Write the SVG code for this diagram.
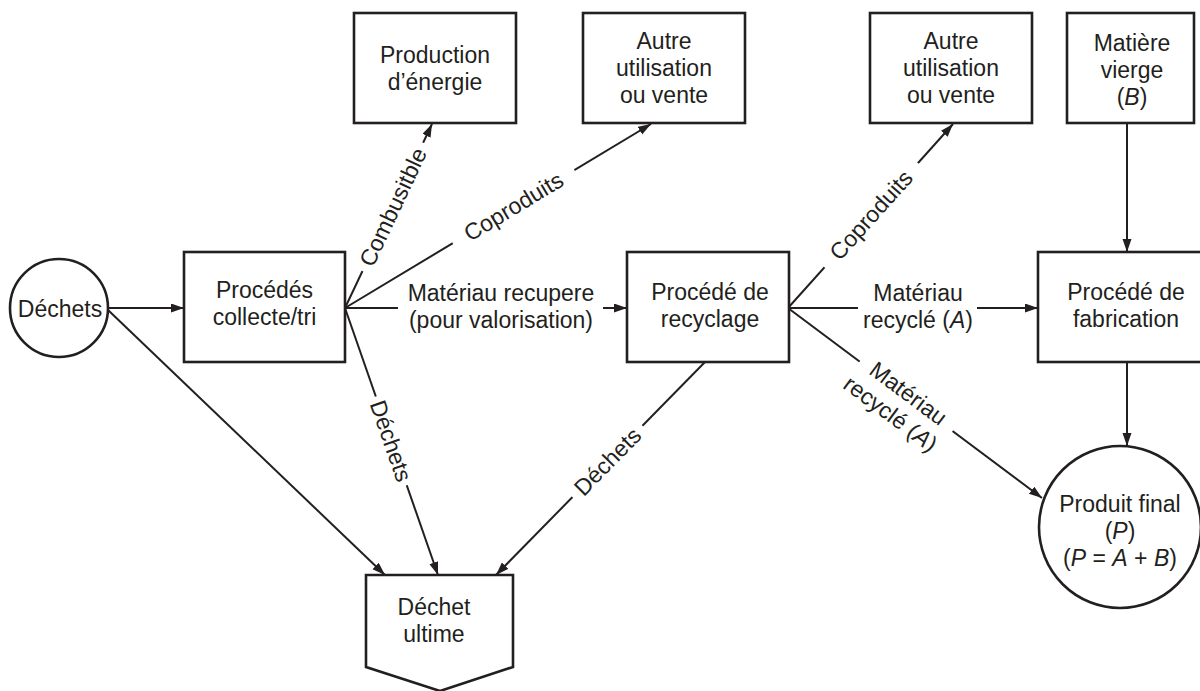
<svg xmlns="http://www.w3.org/2000/svg" width="1200" height="691" viewBox="0 0 1200 691">
<defs>
<style>
.box{fill:#fff;stroke:#231f20;stroke-width:2.6}
.ln{fill:none;stroke:#231f20;stroke-width:2}
.arr{marker-end:url(#ah)}
text{font-family:"Liberation Sans",Arial,sans-serif;font-size:23px;fill:#231f20;text-anchor:middle}
.it{font-style:italic}
.bg{fill:#fff;stroke:none}
</style>
<marker id="ah" markerUnits="userSpaceOnUse" markerWidth="14" markerHeight="10" refX="13" refY="4.5" orient="auto">
<path d="M0,0 L13,4.5 L0,9 Z" fill="#231f20"/>
</marker>
</defs>
<rect width="1200" height="691" fill="#fff"/>

<g id="connectors">
<line class="ln arr" x1="108" y1="308" x2="184" y2="308"/>
<line class="ln arr" x1="108" y1="310" x2="385" y2="575"/>
<line class="ln arr" x1="345" y1="308" x2="432" y2="124"/>
<line class="ln arr" x1="345" y1="308" x2="651" y2="124"/>
<line class="ln" x1="345" y1="308" x2="398" y2="308"/>
<line class="ln arr" x1="603" y1="308" x2="627" y2="308"/>
<line class="ln arr" x1="345" y1="308" x2="438" y2="575"/>
<line class="ln arr" x1="705" y1="362" x2="496" y2="575"/>
<line class="ln arr" x1="788" y1="308" x2="953" y2="124"/>
<line class="ln" x1="788" y1="308" x2="858" y2="308"/>
<line class="ln arr" x1="977" y1="308" x2="1038" y2="308"/>
<line class="ln arr" x1="788" y1="308" x2="1042" y2="498"/>
<line class="ln arr" x1="1127" y1="123" x2="1127" y2="252"/>
<line class="ln arr" x1="1127" y1="362" x2="1127" y2="446"/>
</g>

<g id="labels">
<g transform="translate(393,207) rotate(-64.8)">
<rect class="bg" x="-71" y="-11" width="142" height="22"/>
<text x="0" y="8">Combusitble</text>
</g>
<g transform="translate(513.5,206.5) rotate(-31.1)">
<rect class="bg" x="-71" y="-11" width="142" height="22"/>
<text x="0" y="8">Coproduits</text>
</g>
<g transform="translate(391,441) rotate(70.8)">
<rect class="bg" x="-47" y="-11" width="94" height="22"/>
<text x="0" y="8">Déchets</text>
</g>
<g transform="translate(607.5,461.5) rotate(-45.5)">
<rect class="bg" x="-50" y="-11" width="100" height="22"/>
<text x="0" y="8">Déchets</text>
</g>
<g transform="translate(871,215) rotate(-48.1)">
<rect class="bg" x="-70" y="-11" width="140" height="22"/>
<text x="0" y="8">Coproduits</text>
</g>
<g transform="translate(906,396.5) rotate(36.8)">
<rect class="bg" x="-58" y="-10" width="116" height="20"/>
<text x="0" y="4">Matériau</text>
<text x="-2" y="31">recyclé (<tspan class="it">A</tspan>)</text>
</g>
<text x="501" y="301">Matériau recupere</text>
<text x="501" y="328">(pour valorisation)</text>
<text x="918" y="301">Matériau</text>
<text x="918" y="328">recyclé (<tspan class="it">A</tspan>)</text>
</g>

<g id="node-dechets">
<circle class="box" cx="59" cy="308" r="49"/>
<text x="60" y="317">Déchets</text>
</g>
<g id="node-collecte">
<rect class="box" x="184" y="252" width="161" height="110"/>
<text x="264.5" y="298">Procédés</text>
<text x="264.5" y="325">collecte/tri</text>
</g>
<g id="node-energie">
<rect class="box" x="354" y="13" width="162" height="110"/>
<text x="435" y="63">Production</text>
<text x="435" y="90">d’énergie</text>
</g>
<g id="node-autre1">
<rect class="box" x="583" y="13" width="162" height="110"/>
<text x="664" y="49">Autre</text>
<text x="664" y="76">utilisation</text>
<text x="664" y="103">ou vente</text>
</g>
<g id="node-autre2">
<rect class="box" x="870" y="13" width="162" height="110"/>
<text x="951" y="49">Autre</text>
<text x="951" y="76">utilisation</text>
<text x="951" y="103">ou vente</text>
</g>
<g id="node-vierge">
<rect class="box" x="1067" y="13" width="127" height="110"/>
<text x="1132" y="51">Matière</text>
<text x="1132" y="78">vierge</text>
<text x="1132" y="105">(<tspan class="it">B</tspan>)</text>
</g>
<g id="node-recyclage">
<rect class="box" x="627" y="252" width="162" height="110"/>
<text x="710" y="300">Procédé de</text>
<text x="710" y="327">recyclage</text>
</g>
<g id="node-fabrication">
<rect class="box" x="1038" y="252" width="176" height="110"/>
<text x="1126" y="300">Procédé de</text>
<text x="1126" y="327">fabrication</text>
</g>
<g id="node-produit">
<circle class="box" cx="1120" cy="527" r="81"/>
<text x="1120" y="512">Produit final</text>
<text x="1120" y="539">(<tspan class="it">P</tspan>)</text>
<text x="1120" y="566">(<tspan class="it">P</tspan> = <tspan class="it">A</tspan> + <tspan class="it">B</tspan>)</text>
</g>
<g id="node-ultime">
<path class="box" d="M366,575 L513,575 L513,667 L440,691 L366,667 Z"/>
<text x="434" y="615">Déchet</text>
<text x="434" y="642">ultime</text>
</g>
</svg>
